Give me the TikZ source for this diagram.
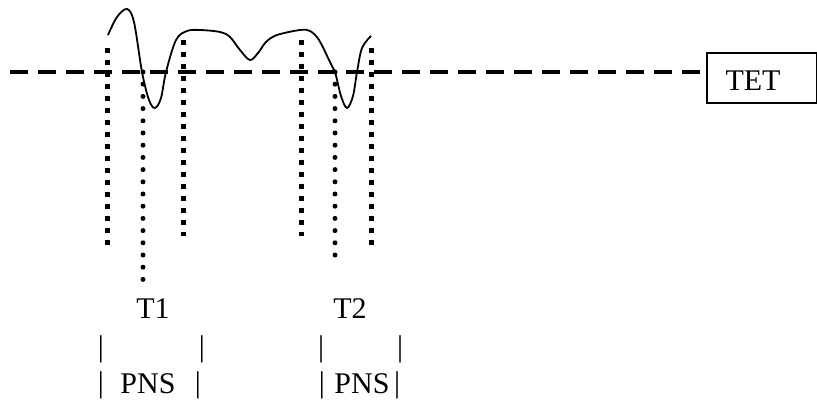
\documentclass[tikz,border=0pt]{standalone}
\usepackage{fontspec}
\setmainfont{Liberation Serif}
\begin{document}
\begin{tikzpicture}[x=1pt,y=-1pt,
  lbl/.style={inner sep=0pt,font=\fontsize{30}{34}\selectfont},
  sqdots/.style={line width=5pt,dash pattern=on 5pt off 7pt},
  rnddots/.style={line width=5pt,line cap=round,dash pattern=on 0pt off 12.2pt},
  curve/.style={line width=1.8pt}]
\useasboundingbox (0,0) rectangle (817,401);
% TET box
\node[draw,line width=2pt,minimum width=110pt,minimum height=50pt,inner sep=0pt,anchor=north west] (tetbox) at (706,52) {};
\node[lbl] (tet) at (753,81) {TET};
\coordinate (dstart) at (10,72);
\coordinate (dend) at (705,72);
\draw[line width=3.8pt,dash pattern=on 18pt off 10pt] (dstart) -- (dend);
% curve
\draw[curve] plot[smooth,tension=0.55] coordinates {(108,35) (117,17) (127,9) (134,22) (142,72) (149,100) (155,108) (161,98) (166,72) (176,40) (187,31) (200,30) (220,32) (230,37) (240,50) (250,60) (258,53) (266,42) (277,35) (300,30) (310,31) (319,40) (330,62) (335,72) (341,96) (347,108) (353,96) (357,72) (362,48) (371,36)};
% dotted columns
\coordinate (a1) at (107,48); \coordinate (a2) at (107,246);
\coordinate (b1) at (143,72); \coordinate (b2) at (143,284);
\coordinate (c1) at (183,40); \coordinate (c2) at (183,236);
\coordinate (d1) at (301,40); \coordinate (d2) at (301,236);
\coordinate (e1) at (335,72); \coordinate (e2) at (335,262);
\coordinate (f1) at (371,48); \coordinate (f2) at (371,246);
\draw[sqdots] (a1) -- (a2);
\draw[sqdots] (c1) -- (c2);
\draw[sqdots] (d1) -- (d2);
\draw[sqdots] (f1) -- (f2);
\draw[rnddots] (b1) -- (b2);
\draw[rnddots] (e1) -- (e2);
% labels
\node[lbl] (t1) at (153,309) {T1};
\node[lbl] (t2) at (350,309) {T2};
\node[lbl] (p1) at (101,349) {|};
\node[lbl] (p2) at (202,349) {|};
\node[lbl] (p3) at (321,349) {|};
\node[lbl] (p4) at (400,349) {|};
\node[lbl] (q1) at (101,385) {|};
\node[lbl] (pns1) at (148,384) {PNS};
\node[lbl] (q2) at (198,385) {|};
\node[lbl] (q3) at (322,385) {|};
\node[lbl] (pns2) at (362,384) {PNS};
\node[lbl] (q4) at (397,385) {|};
\end{tikzpicture}
\end{document}
